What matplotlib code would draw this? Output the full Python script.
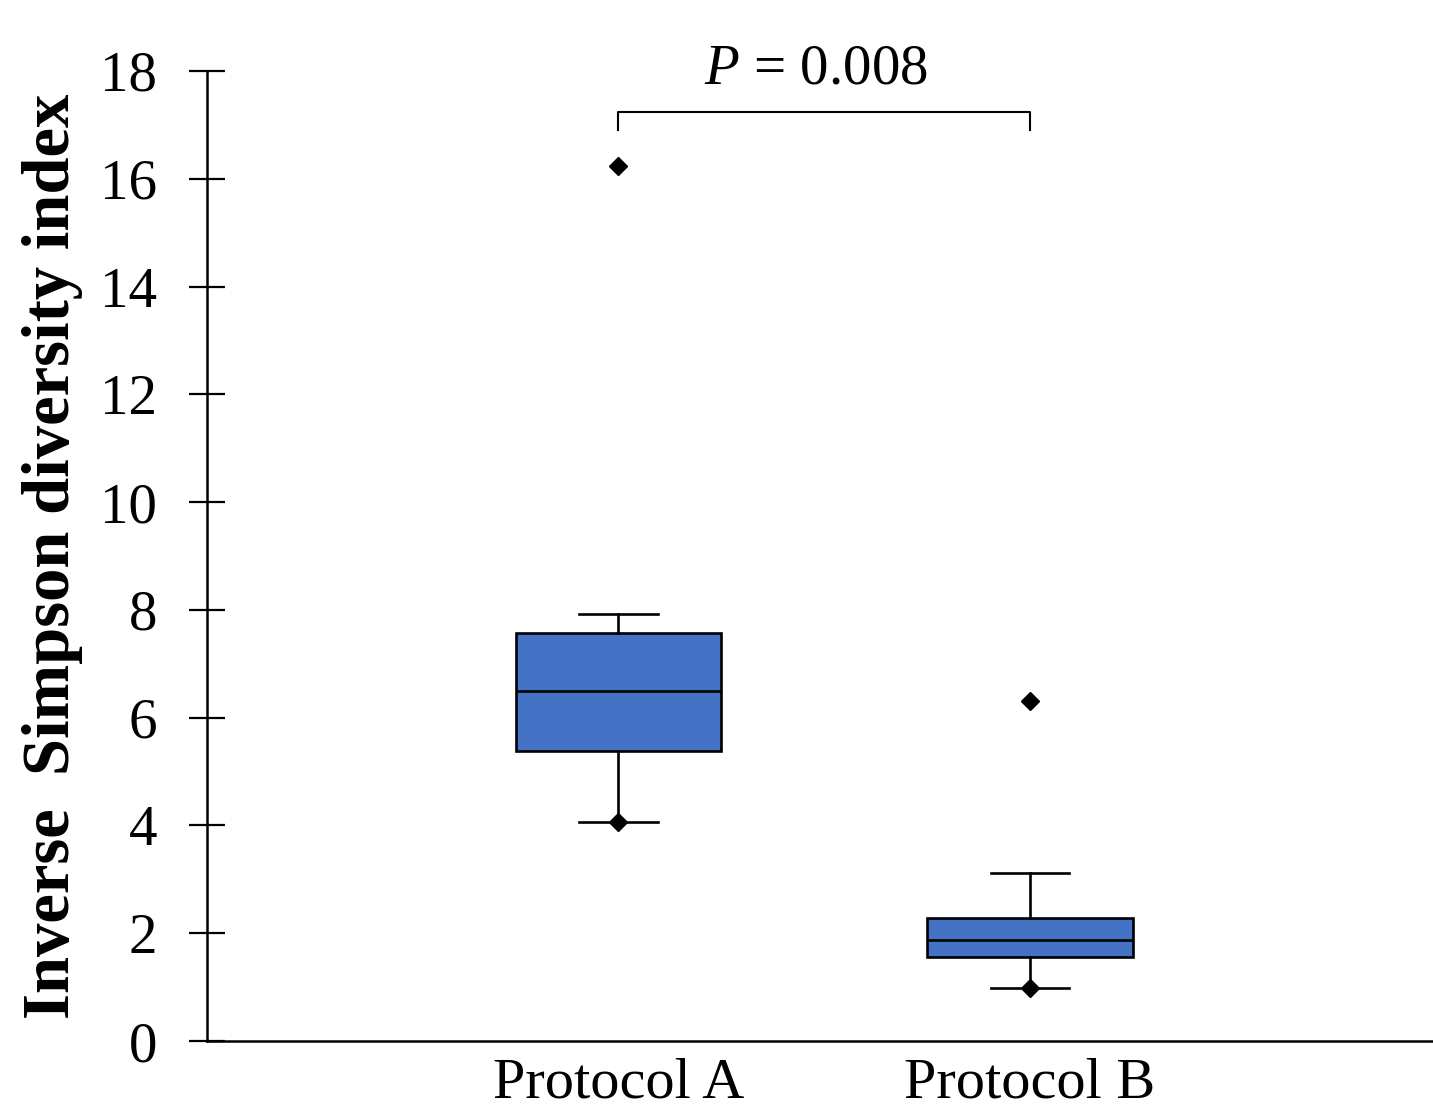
import matplotlib
matplotlib.use("Agg")
import matplotlib.pyplot as plt

plt.rcParams['font.family'] = ['Liberation Serif', 'DejaVu Serif']
plt.rcParams['mathtext.fontset'] = 'custom'
plt.rcParams['mathtext.rm'] = 'Liberation Serif'
plt.rcParams['mathtext.it'] = 'Liberation Serif:italic'

# data
groups = ['Protocol A', 'Protocol B']
q1 = [5.38, 1.56]
median = [6.49, 1.87]
q3 = [7.57, 2.28]
whisker_low = [4.06, 0.98]
whisker_high = [7.92, 3.12]
outliers = [[16.23], [6.31]]
p_text = r'$\mathit{P}$ = 0.008'

stats = []
for i in range(len(groups)):
    stats.append({'label': groups[i], 'q1': q1[i], 'med': median[i], 'q3': q3[i],
                  'whislo': whisker_low[i], 'whishi': whisker_high[i],
                  'fliers': outliers[i]})

fig = plt.figure(figsize=(14.33, 11.07), dpi=100)
ax = fig.add_axes([0.1445, 0.0596, 0.8555, 0.8763])

lw = 1.9
ax.bxp(stats, positions=[1, 2], widths=0.5, capwidths=0.19, patch_artist=True,
       boxprops=dict(facecolor='#4472C4', edgecolor='black', linewidth=lw),
       medianprops=dict(color='black', linewidth=lw),
       whiskerprops=dict(color='black', linewidth=lw),
       capprops=dict(color='black', linewidth=lw),
       flierprops=dict(marker='D', markersize=9, markerfacecolor='black',
                       markeredgecolor='black'))
# diamonds sitting on the lower whiskers
ax.plot([1, 2], whisker_low, linestyle='none', marker='D', markersize=9, color='black')

ax.set_xlim(0, 2.98)
ax.set_ylim(0, 18)
ax.set_yticks(range(0, 19, 2))
ax.tick_params(axis='y', direction='inout', length=26, width=1.6, labelsize=41, pad=23)
ax.tick_params(axis='x', length=0, labelsize=42, pad=12)
ax.spines['top'].set_visible(False)
ax.spines['right'].set_visible(False)
ax.spines['left'].set_linewidth(1.8)
ax.spines['bottom'].set_linewidth(1.8)
ax.set_ylabel('Inverse  Simpson diversity index', fontsize=48, fontweight='bold', labelpad=12)

# significance bracket
ax.plot([1, 1, 2, 2], [16.9, 17.24, 17.24, 16.9], color='black', linewidth=1.5, clip_on=False)
ax.text(1.48, 18.02, p_text, ha='center', va='center', fontsize=41, clip_on=False)

fig.savefig('out.png', dpi=100)
